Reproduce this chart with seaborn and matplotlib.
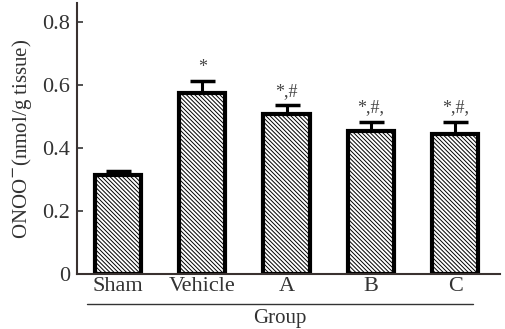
import matplotlib
matplotlib.use('Agg')
import matplotlib.pyplot as plt
import seaborn as sns
import pandas as pd

groups = ['Sham', 'Vehicle', 'A', 'B', 'C']
means = [0.314, 0.575, 0.508, 0.454, 0.444]
errs = [0.012, 0.036, 0.027, 0.029, 0.039]
marks = ['', '*', '*,#', '*,#,', '*,#,']

sns.set_theme(style='ticks')
plt.rcParams['font.family'] = ['Liberation Serif', 'DejaVu Serif']
plt.rcParams['hatch.linewidth'] = 0.7
plt.rcParams['hatch.color'] = '#666666'

df = pd.DataFrame({'Group': groups, 'value': means})

fig, ax = plt.subplots(figsize=(5.06, 3.29), dpi=100)
fig.subplots_adjust(left=0.152, right=0.988, bottom=0.167, top=0.991)

sns.barplot(data=df, x='Group', y='value', color='white', width=0.55,
            edgecolor='black', linewidth=3, ax=ax, errorbar=None, zorder=2)
for p in ax.patches:
    p.set_hatch('\\\\\\\\\\\\\\\\')

ax.errorbar(range(len(groups)), means, yerr=[[0] * len(groups), errs], fmt='none',
            ecolor='black', elinewidth=2.2, capsize=9, capthick=2.5, zorder=1)

for i, (m, e, t) in enumerate(zip(means, errs, marks)):
    if t:
        ax.text(i, m + e + 0.03, t, ha='center', va='baseline', fontsize=13, color='#444444')

ax.set_xlim(-0.487, 4.53)
ax.set_ylim(0, 0.86)
ax.set_yticks([0, 0.2, 0.4, 0.6, 0.8])
ax.set_yticklabels(['0', '0.2', '0.4', '0.6', '0.8'])
ax.tick_params(axis='y', direction='in', length=4, width=1.2, colors='#333333', labelsize=16, pad=5)
ax.tick_params(axis='x', length=0, labelsize=16, colors='#333333', pad=2)
for s in ['top', 'right']:
    ax.spines[s].set_visible(False)
for s in ['left', 'bottom']:
    ax.spines[s].set_color('#3a3230')
    ax.spines[s].set_linewidth(1.5)

ax.set_xlabel('')
ax.set_ylabel('ONOO$^{-}$(nmol/g tissue)', fontsize=15, color='#333333', labelpad=6)

# group bracket line under the tick labels
ax.plot([-0.37, 4.21], [-0.095, -0.095], color='#333333', lw=1.0, clip_on=False)
ax.text(1.92, -0.14, 'Group', ha='center', va='center', fontsize=15, color='#333333')

fig.savefig('out.png', dpi=100)
